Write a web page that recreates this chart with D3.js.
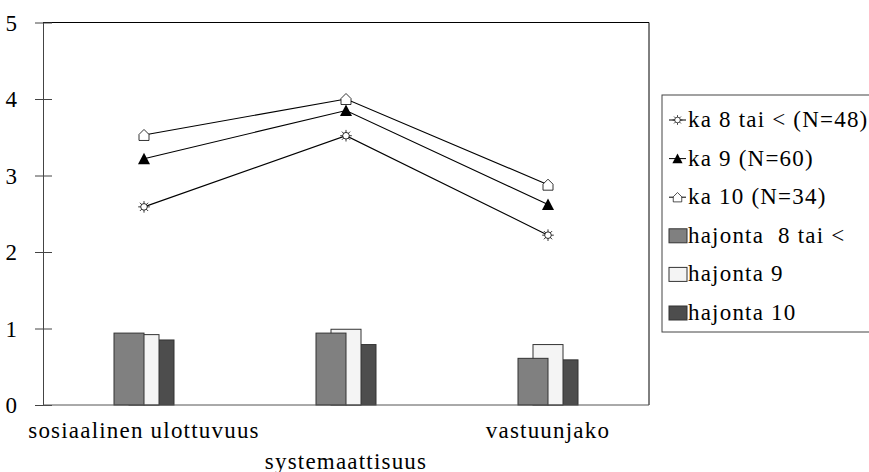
<!DOCTYPE html>
<html><head><meta charset="utf-8">
<script src="https://cdn.jsdelivr.net/npm/d3@7"></script>
<style>body{margin:0;background:#fff;}</style></head>
<body><svg id="c" width="869" height="472"></svg>
<script>
const categories = ["sosiaalinen ulottuvuus","systemaattisuus","vastuunjako"];
const lineNames = ["ka 8 tai < (N=48)","ka 9 (N=60)","ka 10 (N=34)"];
const ka8 = [2.59, 3.52, 2.22];
const ka9 = [3.22, 3.85, 2.62];
const ka10 = [3.53, 4.00, 2.88];
const barNames = ["hajonta  8 tai <","hajonta 9","hajonta 10"];
const haj8 = [0.94, 0.94, 0.61];
const haj9 = [0.92, 0.99, 0.79];
const haj10 = [0.85, 0.79, 0.59];
const yTicks = [0,1,2,3,4,5];

const FONT = "'Liberation Serif', 'Times New Roman', serif";
const LS = "1.2px";
const FS = "23px";
const svg = d3.select("#c");
const L=43, R=649, T=22.5, B=405;
const x = d3.scaleBand().domain(categories).range([L,R]).paddingInner(0).paddingOuter(0);
const y = d3.scaleLinear().domain([0,5]).range([B,T]);
const barW = 30, step = 15;
const barOff = d3.scaleLinear().domain([0,2]).range([-barW, -barW+2*step]);
const barColors = ["#808080","#f4f4f4","#4d4d4d"];
const barSeries = [haj8, haj9, haj10];

svg.append("path").attr("d",`M${L},${T}H${R}V${B}`).attr("fill","none").attr("stroke","#000").attr("stroke-width",1);

[2,1,0].forEach(i=>{
  svg.append("g").selectAll("rect").data(barSeries[i]).join("rect")
    .attr("x",(d,j)=>x(categories[j])+x.bandwidth()/2+barOff(i))
    .attr("y",d=>y(d)).attr("width",barW).attr("height",d=>B-y(d))
    .attr("fill",barColors[i]).attr("stroke","#333").attr("stroke-width",1);
});

const yAxis = d3.axisLeft(y).tickValues(yTicks).tickSizeInner(8).tickSizeOuter(0).tickPadding(18).tickFormat(d3.format("d"));
const gy = svg.append("g").attr("transform",`translate(${L},0)`).call(yAxis);
gy.attr("font-family",null);
gy.select(".domain").attr("stroke","#444");
gy.selectAll(".tick line").attr("stroke","#444").attr("x2",-8).attr("x1",9);
gy.selectAll(".tick text").style("font-size",FS).style("font-family",FONT).attr("fill","#000").attr("dy","0.34em");
svg.append("line").attr("x1",L).attr("x2",R).attr("y1",B).attr("y2",B).attr("stroke","#555");

const labelBase = [438, 469, 438];
svg.append("g").selectAll("text").data(categories).join("text")
  .attr("x",d=>x(d)+x.bandwidth()/2).attr("y",(d,i)=>labelBase[i])
  .attr("text-anchor","middle").style("font-size",FS).style("letter-spacing",LS).style("font-family",FONT).text(d=>d);

function sunPath(s){
  let p=d3.path(); const r=3.3*s;
  p.moveTo(r,0); p.arc(0,0,r,0,2*Math.PI);
  for(let k=0;k<8;k++){const a=k*Math.PI/4; p.moveTo(Math.cos(a)*r,Math.sin(a)*r); p.lineTo(Math.cos(a)*(r+2.5*s),Math.sin(a)*(r+2.5*s));}
  return p.toString();
}
const housePath = "M-5,5.5H5V-0.5L0,-5.5L-5,-0.5Z";
const triPath = "M0,-6L6,5.5H-6Z";
function drawMarker(g,type,cx,cy,sc){
  sc = sc||1;
  const tr = `translate(${cx},${cy}) scale(${sc})`;
  if(type===0) g.append("path").attr("d",sunPath(1)).attr("transform",tr).attr("fill","#fff").attr("stroke","#000").attr("stroke-width",0.8);
  if(type===1) g.append("path").attr("d",triPath).attr("transform",tr).attr("fill","#000");
  if(type===2) g.append("path").attr("d",housePath).attr("transform",tr).attr("fill","#fff").attr("stroke","#000").attr("stroke-width",0.8);
}
const lineSeries=[ka8,ka9,ka10];
const line = d3.line().x((d,i)=>x(categories[i])+x.bandwidth()/2).y(d=>y(d));
lineSeries.forEach((s,k)=>{
  const g=svg.append("g");
  g.append("path").attr("d",line(s)).attr("fill","none").attr("stroke","#000").attr("stroke-width",1.1);
  s.forEach((v,i)=>drawMarker(g,k,x(categories[i])+x.bandwidth()/2,y(v)));
});

const lg = svg.append("g");
lg.append("rect").attr("x",662).attr("y",95).attr("width",220).attr("height",237).attr("fill","#fff").attr("stroke","#444");
const ly = d3.scaleLinear().domain([0,5]).range([120,313]);
const TX = 688;
lineNames.forEach((n,k)=>{
  const yy=ly(k);
  lg.append("line").attr("x1",669).attr("x2",686).attr("y1",yy).attr("y2",yy).attr("stroke","#000");
  drawMarker(lg.append("g"),k,677.5,yy,0.85);
  lg.append("text").attr("x",TX).attr("y",yy+7).style("font-size",FS).style("letter-spacing",LS).style("font-family",FONT).text(n);
});
barNames.forEach((n,k)=>{
  const yy=ly(k+3);
  lg.append("rect").attr("x",669).attr("y",yy-7).attr("width",18).attr("height",14).attr("fill",barColors[k]).attr("stroke","#333");
  lg.append("text").attr("x",TX).attr("y",yy+7).style("font-size",FS).style("letter-spacing",LS).style("font-family",FONT).style("white-space","pre").text(n);
});
</script></body></html>
